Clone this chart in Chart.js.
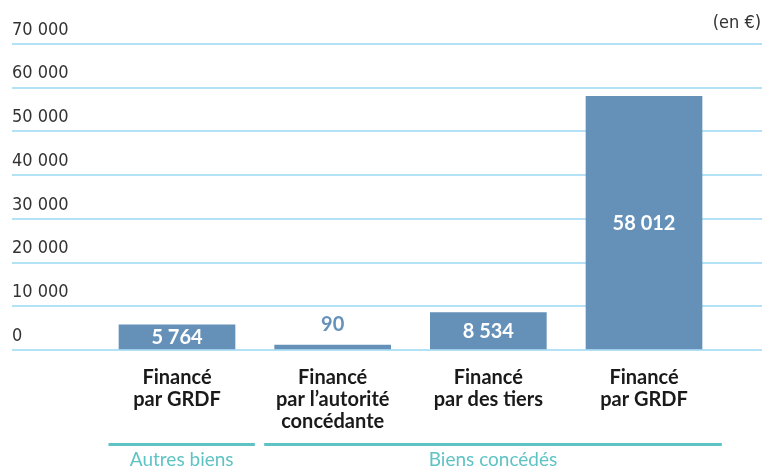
<!DOCTYPE html>
<html>
<head>
<meta charset="utf-8">
<script src="https://cdn.jsdelivr.net/npm/chart.js@4.4.1/dist/chart.umd.min.js"></script>
<style>
  html, body { margin: 0; padding: 0; background: #fff; }
</style>
</head>
<body>
<canvas id="myChart" width="765" height="469"></canvas>
<script>
// Data
const categories = [
  ['Financé', 'par GRDF'],
  ['Financé', 'par l’autorité', 'concédante'],
  ['Financé', 'par des tiers'],
  ['Financé', 'par GRDF']
];
const values = [5764, 90, 8534, 58012];
const yTicks = [0, 10000, 20000, 30000, 40000, 50000, 60000, 70000];
const groupLabels = ['Autres biens', 'Biens concédés'];
const groupRanges = [[0, 0], [1, 3]];
const unitLabel = '(en €)';

const BAR = '#6591b9';
const GRID = '#b3e1f6';
const TEAL = '#5fc3c4';
const NARROW = "'DejaVu Sans Condensed', sans-serif";
const BOLD = "Lato, 'Open Sans', sans-serif";

const fmt = n => String(n).replace(/\B(?=(\d{3})+(?!\d))/g, ' ');

// value labels, group lines and the unit text
const extras = {
  id: 'extras',
  afterDatasetsDraw(chart) {
    const ctx = chart.ctx;
    const meta = chart.getDatasetMeta(0);
    ctx.save();
    ctx.textAlign = 'center';
    ctx.textBaseline = 'middle';
    ctx.font = 'bold 20px ' + BOLD;
    meta.data.forEach((bar, i) => {
      const h = bar.base - bar.y;
      if (h > 15) {
        ctx.fillStyle = '#ffffff';
        ctx.fillText(fmt(values[i]), bar.x, (bar.y + bar.base) / 2 + 1);
      } else {
        ctx.fillStyle = BAR;
        ctx.fillText(fmt(values[i]), bar.x, bar.y - 20);
      }
    });
    ctx.restore();
  },
  afterDraw(chart) {
    const ctx = chart.ctx;
    const x = chart.scales.x;
    ctx.save();
    ctx.strokeStyle = TEAL;
    ctx.lineWidth = 3;
    ctx.fillStyle = TEAL;
    ctx.font = '19px ' + BOLD;
    ctx.textAlign = 'center';
    ctx.textBaseline = 'middle';
    groupRanges.forEach((r, i) => {
      const x0 = x.getPixelForValue(r[0] - 0.44);
      const x1 = x.getPixelForValue(r[1] + 0.5);
      ctx.beginPath();
      ctx.moveTo(x0, 444.5);
      ctx.lineTo(x1, 444.5);
      ctx.stroke();
      ctx.fillText(groupLabels[i], (x0 + x1) / 2, 460);
    });
    ctx.fillStyle = '#333333';
    ctx.font = '18px ' + NARROW;
    ctx.textAlign = 'right';
    ctx.fillText(unitLabel, 761, 23);
    ctx.restore();
  }
};

const ctx = document.getElementById('myChart').getContext('2d');
new Chart(ctx, {
  type: 'bar',
  data: {
    datasets: [{
      data: values.map((v, i) => ({ x: i, y: v })),
      backgroundColor: BAR,
      borderWidth: 0,
      barThickness: 116,
      minBarLength: 5
    }]
  },
  options: {
    responsive: false,
    animation: false,
    layout: { padding: { left: 12, right: 3, top: 44, bottom: 19 } },
    plugins: { legend: { display: false }, tooltip: { enabled: false } },
    scales: {
      x: {
        type: 'linear',
        offset: false,
        min: -1.06,
        max: 3.758,
        afterBuildTicks: scale => { scale.ticks = categories.map((c, i) => ({ value: i })); },
        grid: { display: false, drawTicks: false, offset: false },
        border: { display: false },
        ticks: {
          autoSkip: false,
          maxRotation: 0,
          padding: 17,
          color: '#1a1a1a',
          font: { family: BOLD, size: 20, weight: 'bold', lineHeight: 1.1 },
          callback: v => categories[v]
        }
      },
      y: {
        min: 0,
        max: 70000,
        afterBuildTicks: scale => { scale.ticks = yTicks.map(v => ({ value: v })); },
        grid: { color: GRID, lineWidth: 2, drawTicks: false },
        border: { display: false },
        ticks: {
          mirror: true,
          padding: 0,
          labelOffset: -14,
          color: '#333333',
          font: { family: NARROW, size: 18 },
          callback: v => fmt(v)
        }
      }
    }
  },
  plugins: [extras]
});
</script>
</body>
</html>
